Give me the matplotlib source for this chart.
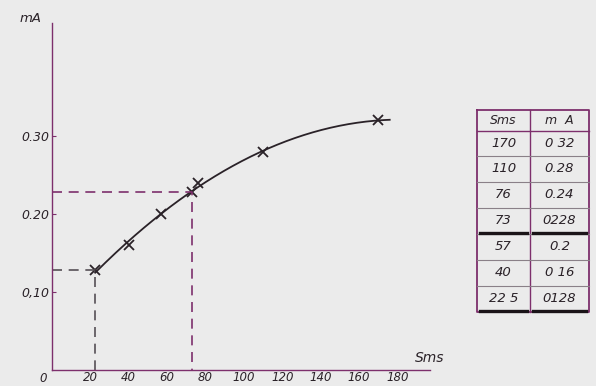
import numpy as np
import matplotlib.pyplot as plt

# measured points (Sms, mA)
sms = [22.5, 40, 57, 73, 76, 110, 170]
ma = [0.128, 0.16, 0.2, 0.228, 0.24, 0.28, 0.32]

xticks = [0, 20, 40, 60, 80, 100, 120, 140, 160, 180]
yticks = [0.10, 0.20, 0.30]
ytick_labels = ['0,10', '0.20', '0.30']

tab_sms = ['170', '110', '76', '73', '57', '40', '22 5']
tab_ma = ['0 32', '0.28', '0.24', '0228', '0.2', '0 16', '0128']
underlined = ['73', '22 5']

bg = '#ebebeb'
purple = '#7d2f6c'
ink = '#2a2228'

fig = plt.figure(figsize=(5.96, 3.86), dpi=100, facecolor=bg)
W, H = 596, 386
ax = fig.add_axes([52 / W, 16 / H, 378 / W, 347 / H], facecolor=bg)
ax.set_xlim(0, 197)
ax.set_ylim(0, 0.445)

for s in ['top', 'right']:
    ax.spines[s].set_visible(False)
for s in ['left', 'bottom']:
    ax.spines[s].set_color(purple)
    ax.spines[s].set_linewidth(1.0)

# smooth curve through the points
coef = np.polyfit(sms, ma, 2)
xs = np.linspace(sms[0], 176, 200)
ax.plot(xs, np.polyval(coef, xs), color=ink, lw=1.3)
ax.plot(sms, ma, 'x', color=ink, ms=7, mew=1.3)

# dashed guide lines
ax.plot([0, sms[3], sms[3]], [ma[3], ma[3], 0], ls=(0, (6, 4)), color=purple, lw=1.2)
ax.plot([0, sms[0], sms[0]], [ma[0], ma[0], 0], ls=(0, (6, 4)), color='#555055', lw=1.2)

ax.set_xticks(xticks)
ax.set_xticklabels([''] + [str(t) for t in xticks[1:]], fontstyle='italic', fontsize=8.5, color=ink)
ax.set_yticks(yticks)
ax.set_yticklabels(ytick_labels, fontstyle='italic', fontsize=9, color=ink)
ax.tick_params(axis='x', length=0, pad=1)
ax.tick_params(axis='y', length=3, direction='in', color=purple, pad=2)

fig.text(43 / W, 1 - 379 / H, '0', fontstyle='italic', fontsize=8.5, color=ink, ha='center', va='center')
fig.text(20 / W, 1 - 19 / H, 'mA', fontstyle='italic', fontsize=9.5, color=ink, ha='left', va='center')
fig.text(415 / W, 1 - 358 / H, 'Sms', fontstyle='italic', fontsize=10, color=ink, ha='left', va='center')

# hand drawn table
tx = fig.add_axes([0, 0, 1, 1], facecolor='none')
tx.set_xlim(0, W)
tx.set_ylim(H, 0)
tx.axis('off')
x0, xm, x1 = 477, 530, 589
rows = [110, 131, 156, 182, 208, 234, 260, 286, 312]
tx.plot([x0, x1, x1, x0, x0], [rows[0], rows[0], rows[-1], rows[-1], rows[0]], color=purple, lw=1.3)
tx.plot([xm, xm], [rows[0], rows[-1]], color=purple, lw=1.0)
tx.plot([x0, x1], [rows[1], rows[1]], color=purple, lw=1.0)
for r in rows[2:-1]:
    tx.plot([x0, x1], [r, r], color='#8a8088', lw=0.8)
tx.text((x0 + xm) / 2, (rows[0] + rows[1]) / 2, 'Sms', fontstyle='italic', fontsize=9, color=ink, ha='center', va='center')
tx.text((xm + x1) / 2, (rows[0] + rows[1]) / 2, 'm  A', fontstyle='italic', fontsize=9, color=ink, ha='center', va='center')
for i, (a, b) in enumerate(zip(tab_sms, tab_ma)):
    yc = (rows[i + 1] + rows[i + 2]) / 2
    tx.text((x0 + xm) / 2, yc, a, fontstyle='italic', fontsize=9.5, color=ink, ha='center', va='center')
    tx.text((xm + x1) / 2, yc, b, fontstyle='italic', fontsize=9.5, color=ink, ha='center', va='center')
    if a in underlined:
        tx.plot([x0 + 3, xm - 3], [rows[i + 2] - 1, rows[i + 2] - 1], color='#1a1418', lw=2.4)
        tx.plot([xm + 3, x1 - 3], [rows[i + 2] - 1, rows[i + 2] - 1], color='#1a1418', lw=2.4)

fig.savefig('out.png', dpi=100, facecolor=bg)
